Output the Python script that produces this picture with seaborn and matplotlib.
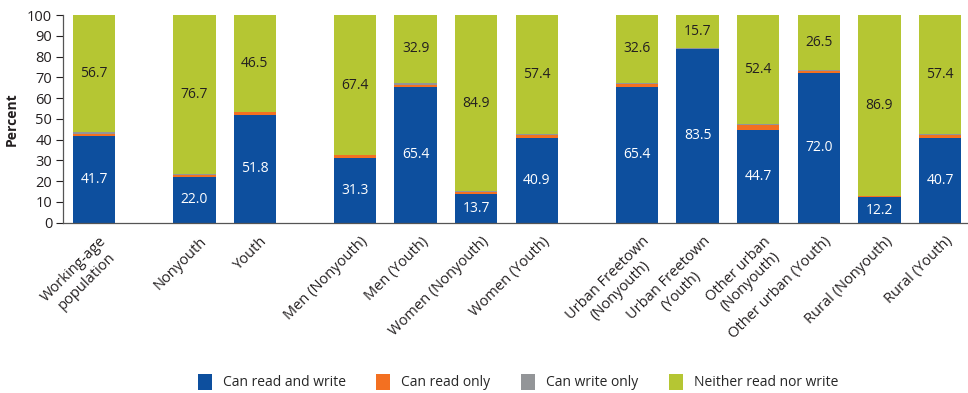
import numpy as np
import pandas as pd
import seaborn as sns
import matplotlib.pyplot as plt
import matplotlib.transforms as mtransforms
from matplotlib.patches import Patch

# categories (bar positions leave a wider gap between groups)
categories = ["Working-age\npopulation", "Nonyouth", "Youth",
              "Men (Nonyouth)", "Men (Youth)", "Women (Nonyouth)", "Women (Youth)",
              "Urban Freetown\n(Nonyouth)", "Urban Freetown\n(Youth)",
              "Other urban\n(Nonyouth)", "Other urban (Youth)",
              "Rural (Nonyouth)", "Rural (Youth)"]
positions = [0, 1.65, 2.65, 4.3, 5.3, 6.3, 7.3, 8.95, 9.95, 10.95, 11.95, 12.95, 13.95]

read_write = [41.7, 22.0, 51.8, 31.3, 65.4, 13.7, 40.9, 65.4, 83.5, 44.7, 72.0, 12.2, 40.7]
read_only = [1.1, 0.9, 1.4, 1.1, 1.1, 1.0, 1.2, 1.5, 0.2, 2.3, 1.0, 0.7, 1.3]
write_only = [0.8, 0.4, 0.3, 0.2, 0.8, 0.4, 0.5, 0.6, 0.6, 0.6, 0.5, 0.2, 0.6]
neither = [56.7, 76.7, 46.5, 67.4, 32.9, 84.9, 57.4, 32.6, 15.7, 52.4, 26.5, 86.9, 57.4]

series = ["Can read and write", "Can read only", "Can write only", "Neither read nor write"]
colors = ["#0D4F9E", "#F37021", "#939598", "#B5C633"]

df = pd.DataFrame({"pos": positions, "cat": categories,
                   "rw": read_write, "ro": read_only, "wo": write_only, "nn": neither})

sns.set_style("white")
plt.rcParams["font.family"] = ["Open Sans", "DejaVu Sans"]

fig = plt.figure(figsize=(9.68, 3.93), dpi=100)
ax = fig.add_axes([0.0654, 0.4333, 0.934, 0.5285])

# stacked bars, one seaborn call per series
bottom = np.zeros(len(df))
for col, c in zip(["rw", "ro", "wo", "nn"], colors):
    sns.barplot(data=df, x="pos", y=col, native_scale=True, color=c, width=0.7,
                errorbar=None, bottom=bottom.copy(), saturation=1, linewidth=0, ax=ax)
    bottom += df[col].values

ax.bar_label(ax.containers[0], labels=[f"{v:.1f}" for v in read_write],
             label_type="center", color="white", fontsize=10)
ax.bar_label(ax.containers[3], labels=[f"{v:.1f}" for v in neither],
             label_type="center", color="#231F20", fontsize=10)

ax.set_xlim(-0.51, 14.4)
ax.set_ylim(0, 100)
ax.set_yticks(range(0, 101, 10))
ax.tick_params(axis="y", labelsize=10.5, length=5, width=0.8, colors="#231F20",
               left=True, pad=3)
ax.set_xticks(positions)
ax.set_xticklabels(categories, rotation=45, ha="right", rotation_mode="anchor",
                   fontsize=10.5, color="#231F20", multialignment="center")
ax.tick_params(axis="x", length=0, pad=8)
shift = mtransforms.ScaledTranslation(5 / 100, 0, fig.dpi_scale_trans)
for lab in ax.get_xticklabels():
    lab.set_transform(lab.get_transform() + shift)
ax.set_xlabel("")
ax.set_ylabel("Percent", fontsize=10, fontweight="bold", color="#231F20", labelpad=6)

for s in ["top", "right"]:
    ax.spines[s].set_visible(False)
for s in ["left", "bottom"]:
    ax.spines[s].set_color("#555555")
    ax.spines[s].set_linewidth(0.9)

handles = [Patch(facecolor=c, edgecolor="none") for c in colors]
fig.legend(handles, series, loc="center", bbox_to_anchor=(0.535, 0.028), ncol=4,
           frameon=False, fontsize=10, handlelength=1.0, handleheight=1.4,
           columnspacing=2.2, handletextpad=0.8)

fig.savefig("out.png", dpi=100)
